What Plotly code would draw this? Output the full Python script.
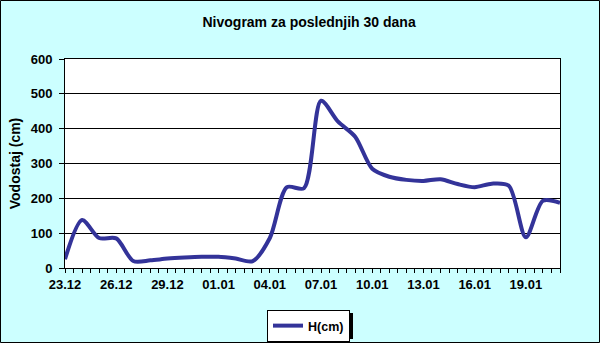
import plotly.graph_objects as go

days = list(range(30))
levels = [25, 138, 86, 85, 20, 22, 27, 30, 32, 32, 27, 20, 86, 232, 229, 480,
          420, 377, 285, 262, 253, 250, 255, 241, 232, 242, 236, 88, 193, 187]
tick_pos = [0, 3, 6, 9, 12, 15, 18, 21, 24, 27]
tick_labels = ["23.12", "26.12", "29.12", "01.01", "04.01", "07.01",
               "10.01", "13.01", "16.01", "19.01"]
y_ticks = [0, 100, 200, 300, 400, 500, 600]

W, H = 600, 343
L, R, T, B = 65, 40, 59, 75
pw, ph = W - L - R, H - T - B

def px(x):
    return (x - L) / pw

def py(y):
    return (H - B - y) / ph

label_map = dict(zip(tick_pos, tick_labels))
all_ticks = [i * 0.5 for i in range(2 * days[-1] + 1)]
all_text = ["<b>%s</b>" % label_map[t] if t in label_map else "" for t in all_ticks]

font = dict(family="Liberation Sans, Arial, sans-serif", size=13, color="black")

fig = go.Figure()
fig.add_trace(go.Scatter(
    x=days, y=levels, mode="lines", name="<b>H(cm)</b>",
    line=dict(color="#333399", width=4, shape="spline", smoothing=0.8),
))

shapes = [
    dict(type="rect", xref="paper", yref="paper",
         x0=px(0.5), x1=px(599.5), y0=py(342.5), y1=py(0.5),
         line=dict(color="black", width=1), layer="above"),
    dict(type="rect", xref="paper", yref="paper",
         x0=px(270), x1=px(353), y0=py(339), y1=py(313),
         fillcolor="black", line=dict(width=0), layer="below"),
]

fig.update_layout(
    width=W, height=H,
    margin=dict(l=L, r=R, t=T, b=B, autoexpand=False),
    paper_bgcolor="#CCFFFF",
    plot_bgcolor="white",
    font=font,
    title=dict(text="<b>Nivogram za poslednjih 30 dana</b>", x=px(320), xanchor="center",
               y=1 - 22 / H, yanchor="middle", font=dict(size=14)),
    showlegend=True,
    legend=dict(x=px(267), y=py(310), xanchor="left", yanchor="top",
                bgcolor="white", bordercolor="black", borderwidth=1,
                font=dict(size=12.5), itemwidth=30, tracegroupgap=0),
    shapes=shapes,
)

fig.update_xaxes(
    range=[0, 29], tickmode="array", tickvals=all_ticks, ticktext=all_text,
    ticks="outside", ticklen=4, tickcolor="black",
    showgrid=False, zeroline=False,
    showline=True, linecolor="black", linewidth=1, mirror=True,
)
fig.update_yaxes(
    range=[0, 600], tickmode="array", tickvals=y_ticks,
    ticktext=["<b>%d</b>" % v for v in y_ticks],
    ticks="outside", ticklen=5, tickcolor="black", ticklabelstandoff=4,
    showgrid=True, gridcolor="black", gridwidth=1, zeroline=False,
    showline=True, linecolor="black", linewidth=1, mirror=True,
    title=dict(text="<b>Vodostaj (cm)</b>", standoff=6, font=dict(size=14)),
)

fig.write_html("out.html")
